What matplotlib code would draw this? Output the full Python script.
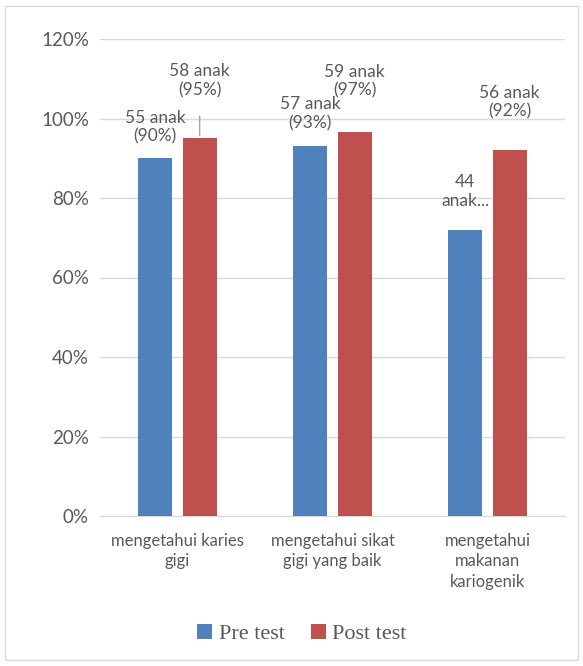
import numpy as np
import matplotlib.pyplot as plt
from matplotlib.patches import Rectangle

categories = ["mengetahui karies\ngigi", "mengetahui sikat\ngigi yang baik", "mengetahui\nmakanan\nkariogenik"]
pre_test = [0.90, 0.93, 0.72]
post_test = [0.95, 0.967, 0.92]
pre_labels = ["55 anak\n(90%)", "57 anak\n(93%)", "44\nanak..."]
post_labels = ["58 anak\n(95%)", "59 anak\n(97%)", "56 anak\n(92%)"]

blue = "#4f81bd"
red = "#c0504d"
grey = "#595959"

fig = plt.figure(figsize=(5.83, 6.66), dpi=100)
fig.patches.append(Rectangle((5/583, 6/666), 573/583, 654/666, transform=fig.transFigure,
                             fill=False, edgecolor="#d9d9d9", linewidth=1))

ax = fig.add_axes([100/583, 1-516/666, 465/583, 477/666])
x = np.arange(len(categories))
w = 0.22
b1 = ax.bar(x - 0.143, pre_test, w, color=blue, label="Pre test", zorder=3)
b2 = ax.bar(x + 0.143, post_test, w, color=red, label="Post test", zorder=3)

ax.set_xlim(-0.5, 2.5)
ax.set_ylim(0, 1.2)
ax.set_yticks(np.arange(0, 1.21, 0.2))
ax.set_yticklabels(["{:.0f}%".format(v*100) for v in np.arange(0, 1.21, 0.2)],
                   fontsize=13.5, color=grey, family="Lato")
ax.set_xticks(x)
ax.set_xticklabels(categories, fontsize=12, color=grey, family="Lato", linespacing=1.35)
ax.tick_params(length=0, pad=8)
ax.tick_params(axis="x", pad=12)
ax.grid(axis="y", color="#d9d9d9", linewidth=1, zorder=0)
for s in ["top", "right", "left"]:
    ax.spines[s].set_visible(False)
ax.spines["bottom"].set_color("#d9d9d9")

# label offsets in points (dx, dy) from bar top
pre_off = [(0, 10), (0, 11), (0, 15)]
post_off = [(0, 29), (0, 24), (0, 22)]
for i in range(3):
    ax.annotate(pre_labels[i], (x[i] - 0.143, pre_test[i]), xytext=pre_off[i],
                textcoords="offset points", ha="center", va="bottom", fontsize=12.5,
                color=grey, family="Lato", linespacing=1.2)
    ax.annotate(post_labels[i], (x[i] + 0.143, post_test[i]), xytext=post_off[i],
                textcoords="offset points", ha="center", va="bottom", fontsize=12.5,
                color=grey, family="Lato", linespacing=1.2)
# leader line for the first post test label
ax.annotate("", (x[0] + 0.143, post_test[0]), xytext=(x[0] + 0.143, post_test[0] + 0.063),
            arrowprops=dict(arrowstyle="-", color="#a6a6a6", lw=1))

fig.legend(handles=[b1, b2], loc="center", bbox_to_anchor=(302/583, 1-634/666), ncol=2,
           frameon=False, prop={"family": "Liberation Serif", "size": 16},
           handlelength=0.65, handleheight=0.65, handletextpad=0.3, columnspacing=1.2,
           labelcolor=grey)

fig.savefig("out.png", dpi=100)
